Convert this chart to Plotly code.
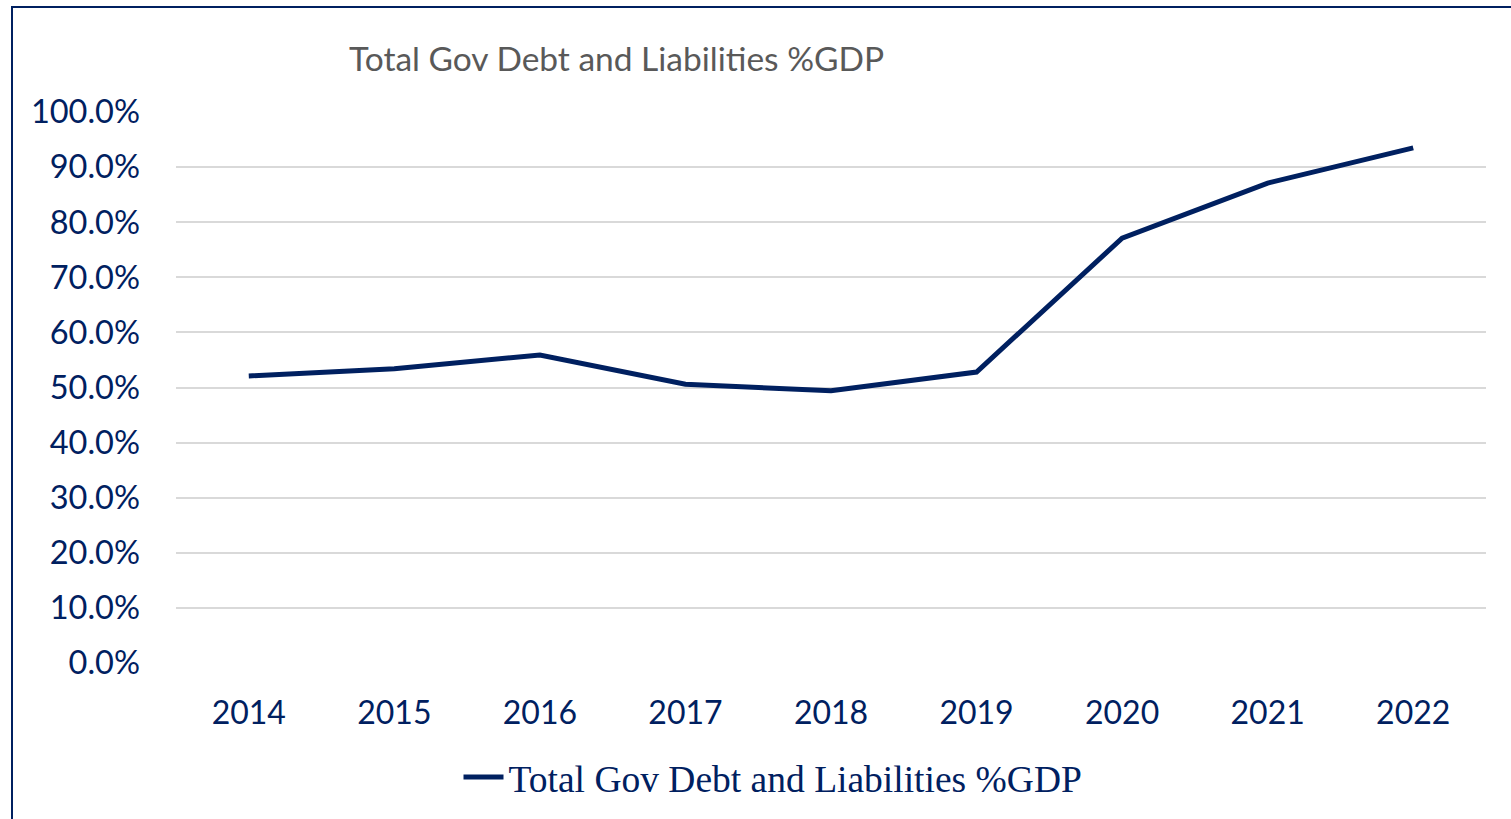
import plotly.graph_objects as go

years = ["2014", "2015", "2016", "2017", "2018", "2019", "2020", "2021", "2022"]
debt_share = [0.521, 0.534, 0.559, 0.506, 0.494, 0.528, 0.771, 0.871, 0.935]
series_name = "Total Gov Debt and Liabilities %GDP"
title_text = "Total Gov Debt and Liabilities %GDP"
y_ticks = [0.0, 0.1, 0.2, 0.3, 0.4, 0.5, 0.6, 0.7, 0.8, 0.9, 1.0]

NAVY = "#002060"
W, H = 1511, 819
L, R, T, B = 176, 25, 112, 156
pw, ph = W - L - R, H - T - B

def px_x(x):
    return (x - L) / pw

def px_y(y):
    return (H - B - y) / ph

fig = go.Figure()
fig.add_trace(go.Scatter(
    x=years, y=debt_share, mode="lines", name=series_name,
    line=dict(color=NAVY, width=5),
))

fig.update_layout(
    width=W, height=H,
    margin=dict(l=L, r=R, t=T, b=B, autoexpand=False),
    paper_bgcolor="white", plot_bgcolor="white",
    showlegend=True,
    legend=dict(
        orientation="h", x=px_x(773), xanchor="center", y=px_y(777), yanchor="middle",
        font=dict(family="Liberation Serif", size=37.5, color=NAVY),
        itemwidth=40,
    ),
    xaxis=dict(
        type="category", range=[-0.5, len(years) - 0.5],
        showgrid=False, showline=False, ticks="",
        tickfont=dict(family="Lato", size=32, color=NAVY),
        ticklabelstandoff=28,
    ),
    yaxis=dict(
        range=[0, 1], tickvals=y_ticks, tickformat=".1%",
        showgrid=True, gridcolor="#d9d9d9", gridwidth=1.5,
        zeroline=False, showline=False, ticks="",
        tickfont=dict(family="Lato", size=32.5, color=NAVY),
        ticklabelstandoff=35,
    ),
    annotations=[dict(
        text=title_text, xref="paper", yref="paper",
        x=px_x(347), y=px_y(58), xanchor="left", yanchor="middle",
        showarrow=False, font=dict(family="Lato", size=33.5, color="#595959"),
    )],
    shapes=[dict(
        type="rect", xref="paper", yref="paper",
        x0=px_x(12), x1=px_x(1530), y0=px_y(840), y1=px_y(7),
        line=dict(color=NAVY, width=2), fillcolor="rgba(0,0,0,0)", layer="above",
    )],
)

fig.write_html("out.html")
